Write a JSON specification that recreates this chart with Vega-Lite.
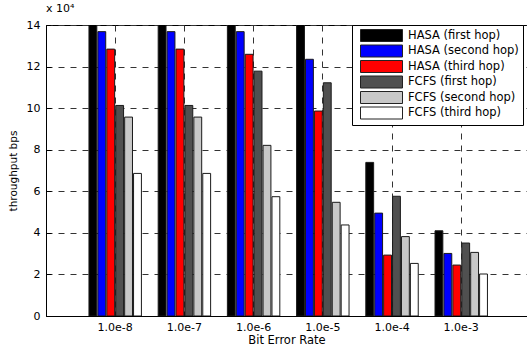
{
  "$schema": "https://vega.github.io/schema/vega-lite/v6.json",
  "width": 481,
  "height": 291,
  "autosize": {"type": "none"},
  "padding": {"left": 46, "top": 25, "right": 0, "bottom": 32},
  "background": "white",
  "title": {"text": "x 10⁴", "anchor": "start", "align": "left", "frame": "group", "font": "DejaVu Sans", "fontSize": 11, "fontWeight": "normal", "color": "black", "offset": 5},
  "config": {
    "view": {"stroke": "black", "strokeWidth": 1},
    "font": "DejaVu Sans",
    "axis": {"domainColor": "black", "tickColor": "black", "labelColor": "black", "titleColor": "black", "labelFont": "DejaVu Sans", "titleFont": "DejaVu Sans", "labelFontSize": 11, "titleFontWeight": "normal", "grid": true, "gridColor": "#333", "gridDash": [6, 6], "gridWidth": 1, "gridOpacity": 1}
  },
  "data": {"values": [
    {"ber": "1.0e-8", "series": "HASA (first hop)", "throughput": 145000},
    {"ber": "1.0e-8", "series": "HASA (second hop)", "throughput": 136800},
    {"ber": "1.0e-8", "series": "HASA (third hop)", "throughput": 128400},
    {"ber": "1.0e-8", "series": "FCFS (first hop)", "throughput": 101300},
    {"ber": "1.0e-8", "series": "FCFS (second hop)", "throughput": 95700},
    {"ber": "1.0e-8", "series": "FCFS (third hop)", "throughput": 68600},
    {"ber": "1.0e-7", "series": "HASA (first hop)", "throughput": 145000},
    {"ber": "1.0e-7", "series": "HASA (second hop)", "throughput": 136800},
    {"ber": "1.0e-7", "series": "HASA (third hop)", "throughput": 128400},
    {"ber": "1.0e-7", "series": "FCFS (first hop)", "throughput": 101300},
    {"ber": "1.0e-7", "series": "FCFS (second hop)", "throughput": 95700},
    {"ber": "1.0e-7", "series": "FCFS (third hop)", "throughput": 68600},
    {"ber": "1.0e-6", "series": "HASA (first hop)", "throughput": 145000},
    {"ber": "1.0e-6", "series": "HASA (second hop)", "throughput": 136800},
    {"ber": "1.0e-6", "series": "HASA (third hop)", "throughput": 125900},
    {"ber": "1.0e-6", "series": "FCFS (first hop)", "throughput": 117800},
    {"ber": "1.0e-6", "series": "FCFS (second hop)", "throughput": 82100},
    {"ber": "1.0e-6", "series": "FCFS (third hop)", "throughput": 57400},
    {"ber": "1.0e-5", "series": "HASA (first hop)", "throughput": 145000},
    {"ber": "1.0e-5", "series": "HASA (second hop)", "throughput": 123500},
    {"ber": "1.0e-5", "series": "HASA (third hop)", "throughput": 98600},
    {"ber": "1.0e-5", "series": "FCFS (first hop)", "throughput": 112200},
    {"ber": "1.0e-5", "series": "FCFS (second hop)", "throughput": 54700},
    {"ber": "1.0e-5", "series": "FCFS (third hop)", "throughput": 43800},
    {"ber": "1.0e-4", "series": "HASA (first hop)", "throughput": 73900},
    {"ber": "1.0e-4", "series": "HASA (second hop)", "throughput": 49500},
    {"ber": "1.0e-4", "series": "HASA (third hop)", "throughput": 29300},
    {"ber": "1.0e-4", "series": "FCFS (first hop)", "throughput": 57600},
    {"ber": "1.0e-4", "series": "FCFS (second hop)", "throughput": 38200},
    {"ber": "1.0e-4", "series": "FCFS (third hop)", "throughput": 25300},
    {"ber": "1.0e-3", "series": "HASA (first hop)", "throughput": 41000},
    {"ber": "1.0e-3", "series": "HASA (second hop)", "throughput": 30100},
    {"ber": "1.0e-3", "series": "HASA (third hop)", "throughput": 24500},
    {"ber": "1.0e-3", "series": "FCFS (first hop)", "throughput": 35100},
    {"ber": "1.0e-3", "series": "FCFS (second hop)", "throughput": 30600},
    {"ber": "1.0e-3", "series": "FCFS (third hop)", "throughput": 20200}
  ]},
  "mark": {"type": "bar", "clip": true, "stroke": "#1a1a1a", "strokeWidth": 1},
  "encoding": {
    "x": {
      "field": "ber", "type": "nominal",
      "sort": ["1.0e-8", "1.0e-7", "1.0e-6", "1.0e-5", "1.0e-4", "1.0e-3"],
      "scale": {"paddingInner": 0, "paddingOuter": 0.475, "align": 0.526},
      "axis": {"title": "Bit Error Rate", "titleFontSize": 11.5, "titlePadding": 2, "labelAngle": 0, "tickSize": -5, "labelPadding": 10}
    },
    "xOffset": {
      "field": "series", "type": "nominal",
      "sort": ["HASA (first hop)", "HASA (second hop)", "HASA (third hop)", "FCFS (first hop)", "FCFS (second hop)", "FCFS (third hop)"],
      "scale": {"paddingInner": 0.12, "paddingOuter": 0.94}
    },
    "y": {
      "field": "throughput", "type": "quantitative",
      "scale": {"domain": [0, 140000]},
      "axis": {"title": "throughput bps", "titleFontSize": 10.5, "titlePadding": 8, "values": [0, 20000, 40000, 60000, 80000, 100000, 120000, 140000], "labelExpr": "datum.value / 10000", "tickSize": -5, "labelPadding": 11}
    },
    "color": {
      "field": "series", "type": "nominal",
      "scale": {
        "domain": ["HASA (first hop)", "HASA (second hop)", "HASA (third hop)", "FCFS (first hop)", "FCFS (second hop)", "FCFS (third hop)"],
        "range": ["#000000", "#0000ff", "#ff0000", "#505050", "#c8c8c8", "#ffffff"]
      },
      "legend": {"orient": "none", "legendX": 306, "legendY": 0, "title": null, "strokeColor": "black", "fillColor": "white", "padding": 4, "symbolType": "M-3.5,-1H3.5V1H-3.5Z", "symbolSize": 144, "symbolOffset": 19, "labelOffset": 20, "labelFont": "DejaVu Sans", "labelFontSize": 11.5, "labelColor": "black", "labelExpr": "datum.label + '\u00a0\u00a0\u00a0\u00a0\u00a0\u00a0\u00a0\u00a0\u00a0\u00a0'", "labelLimit": 300, "rowPadding": -1.5, "symbolStrokeColor": "#222", "symbolStrokeWidth": 1, "symbolOpacity": 1}
    }
  }
}
